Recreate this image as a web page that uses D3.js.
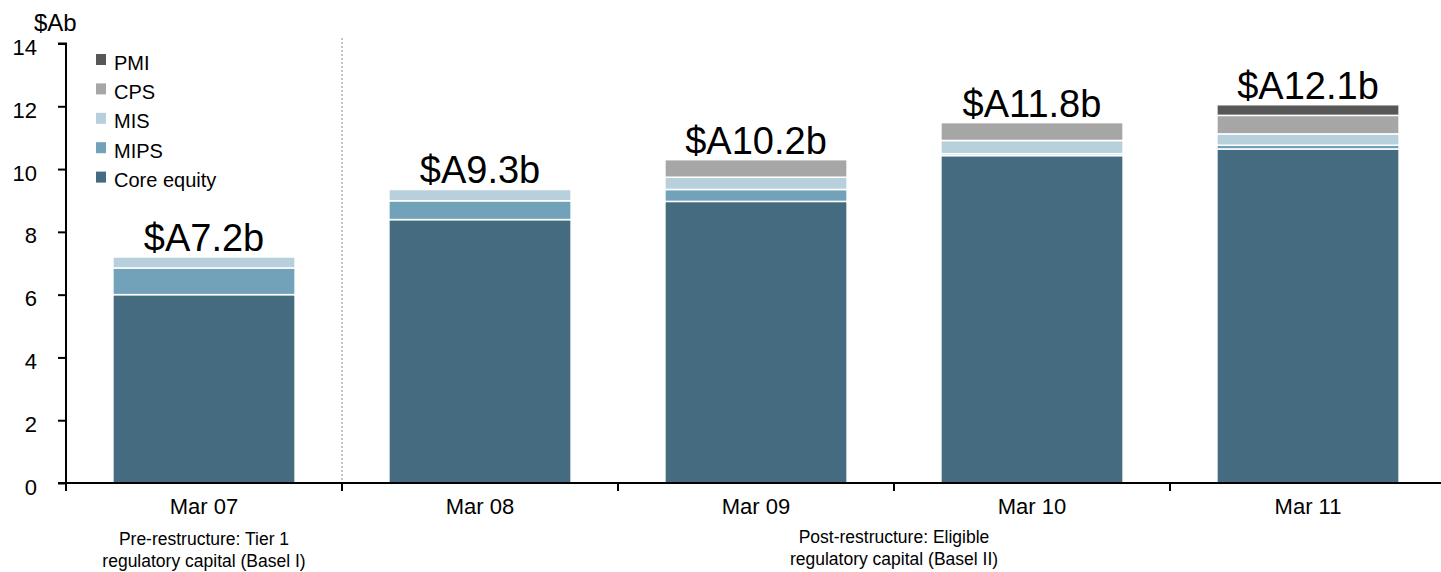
<!DOCTYPE html>
<html>
<head>
<meta charset="utf-8">
<script src="https://cdn.jsdelivr.net/npm/d3@7"></script>
<style>
  html, body { margin: 0; padding: 0; background: #fff; }
  svg { display: block; font-family: "Liberation Sans", Arial, sans-serif; }
</style>
</head>
<body>
<svg id="chart" width="1441" height="572"></svg>
<script>
const categories = ["Mar 07", "Mar 08", "Mar 09", "Mar 10", "Mar 11"];
const seriesNames = ["Core equity", "MIPS", "MIS", "CPS", "PMI"];
const coreEquity = [6.00, 8.39, 8.97, 10.43, 10.64];
const mips       = [0.85, 0.60, 0.38, 0.06, 0.12];
const mis        = [0.35, 0.36, 0.39, 0.42, 0.36];
const cps        = [0.00, 0.00, 0.56, 0.57, 0.59];
const pmi        = [0.00, 0.00, 0.00, 0.00, 0.34];
const totalLabels = ["$A7.2b", "$A9.3b", "$A10.2b", "$A11.8b", "$A12.1b"];
const yTicks = [0, 2, 4, 6, 8, 10, 12, 14];
const legendOrder = ["PMI", "CPS", "MIS", "MIPS", "Core equity"];
const notes = [
  { at: "Mar 07", lines: ["Pre-restructure: Tier 1", "regulatory capital (Basel I)"] },
  { between: ["Mar 09", "Mar 10"], lines: ["Post-restructure: Eligible", "regulatory capital (Basel II)"] }
];

const colors = {
  "Core equity": "#456b80",
  "MIPS": "#72a2b9",
  "MIS": "#b8cfdc",
  "CPS": "#a6a6a6",
  "PMI": "#575757"
};

const seriesValues = {
  "Core equity": coreEquity, "MIPS": mips, "MIS": mis, "CPS": cps, "PMI": pmi
};
const rows = categories.map((c, i) => {
  const r = { cat: c };
  seriesNames.forEach(s => r[s] = seriesValues[s][i]);
  return r;
});

const svg = d3.select("#chart");
const x0 = 66, y0 = 483;
const x = d3.scaleBand().domain(categories).range([x0, 1446]).paddingInner(0.34).paddingOuter(0.17);
const y = d3.scaleLinear().domain([0, 14]).range([y0, 43.5]);

const stack = d3.stack().keys(seriesNames);
const stacked = stack(rows);

// divider
svg.append("line")
  .attr("x1", 342).attr("x2", 342).attr("y1", 38).attr("y2", 491)
  .attr("stroke", "#8c8c8c").attr("stroke-width", 1).attr("stroke-dasharray", "2,2");

// bars
const g = svg.append("g");
stacked.forEach(layer => {
  g.selectAll(null).data(layer.filter(d => d[1] - d[0] > 0)).enter().append("rect")
    .attr("x", d => x(d.data.cat))
    .attr("width", x.bandwidth())
    .attr("y", d => y(d[1]))
    .attr("height", d => y(d[0]) - y(d[1]))
    .attr("fill", colors[layer.key])
    .attr("stroke", "#fff")
    .attr("stroke-width", 1.5);
});

// totals
const totals = rows.map(r => d3.sum(seriesNames, s => r[s]));
svg.selectAll(".tot").data(categories).enter().append("text")
  .attr("x", c => x(c) + x.bandwidth() / 2)
  .attr("y", (c, i) => y(totals[i]) - 6)
  .attr("text-anchor", "middle")
  .attr("font-size", 38)
  .attr("fill", "#000")
  .text((c, i) => totalLabels[i]);

// y axis
const yAxis = d3.axisLeft(y).tickValues(yTicks).tickSize(8).tickPadding(21).tickFormat(d3.format("d"));
const ya = svg.append("g").attr("transform", `translate(${x0},0)`).call(yAxis);
ya.select(".domain").attr("stroke", "#000").attr("stroke-width", 2).attr("d", `M-8,${y(14)}H0V${y0}`);
ya.selectAll(".tick line").attr("stroke", "#000").attr("stroke-width", 2);
ya.selectAll(".tick text").attr("font-size", 22).attr("fill", "#000").attr("dy", "0.5em")
  .attr("font-family", "Liberation Sans, Arial, sans-serif");

// x axis
const xa = svg.append("g").attr("transform", `translate(0,${y0})`);
xa.append("line").attr("x1", x0 - 8).attr("x2", 1441).attr("y1", 0).attr("y2", 0)
  .attr("stroke", "#000").attr("stroke-width", 2);
const step = x.step();
const bounds = d3.range(categories.length + 1).map(i => x0 + i * step);
xa.selectAll(".xt").data(bounds).enter().append("line")
  .attr("x1", d => d).attr("x2", d => d).attr("y1", 0).attr("y2", 8)
  .attr("stroke", "#000").attr("stroke-width", 2);
xa.selectAll(".xl").data(categories).enter().append("text")
  .attr("x", c => x(c) + x.bandwidth() / 2)
  .attr("y", 31)
  .attr("text-anchor", "middle")
  .attr("font-size", 22)
  .attr("fill", "#000")
  .text(c => c);

// $Ab
svg.append("text").attr("x", 34).attr("y", 31).attr("font-size", 24).attr("fill", "#000").text("$Ab");

// legend
const lg = svg.append("g");
legendOrder.forEach((name, i) => {
  const cy = 59.5 + i * 29.4;
  lg.append("rect").attr("x", 96).attr("y", cy - 5.5).attr("width", 10).attr("height", 11).attr("fill", colors[name]);
  lg.append("text").attr("x", 114).attr("y", cy + 10).attr("font-size", 20).attr("fill", "#000").text(name);
});

// notes
notes.forEach((n, k) => {
  let cx;
  if (n.at) cx = x(n.at) + x.bandwidth() / 2;
  else cx = (x(n.between[0]) + x.bandwidth() / 2 + x(n.between[1]) + x.bandwidth() / 2) / 2;
  const baseY = k === 0 ? 545 : 543;
  const lh = k === 0 ? 21.5 : 22;
  n.lines.forEach((t, j) => {
    svg.append("text").attr("x", cx).attr("y", baseY + j * lh)
      .attr("text-anchor", "middle").attr("font-size", 17.5).attr("fill", "#000").text(t);
  });
});
</script>
</body>
</html>
